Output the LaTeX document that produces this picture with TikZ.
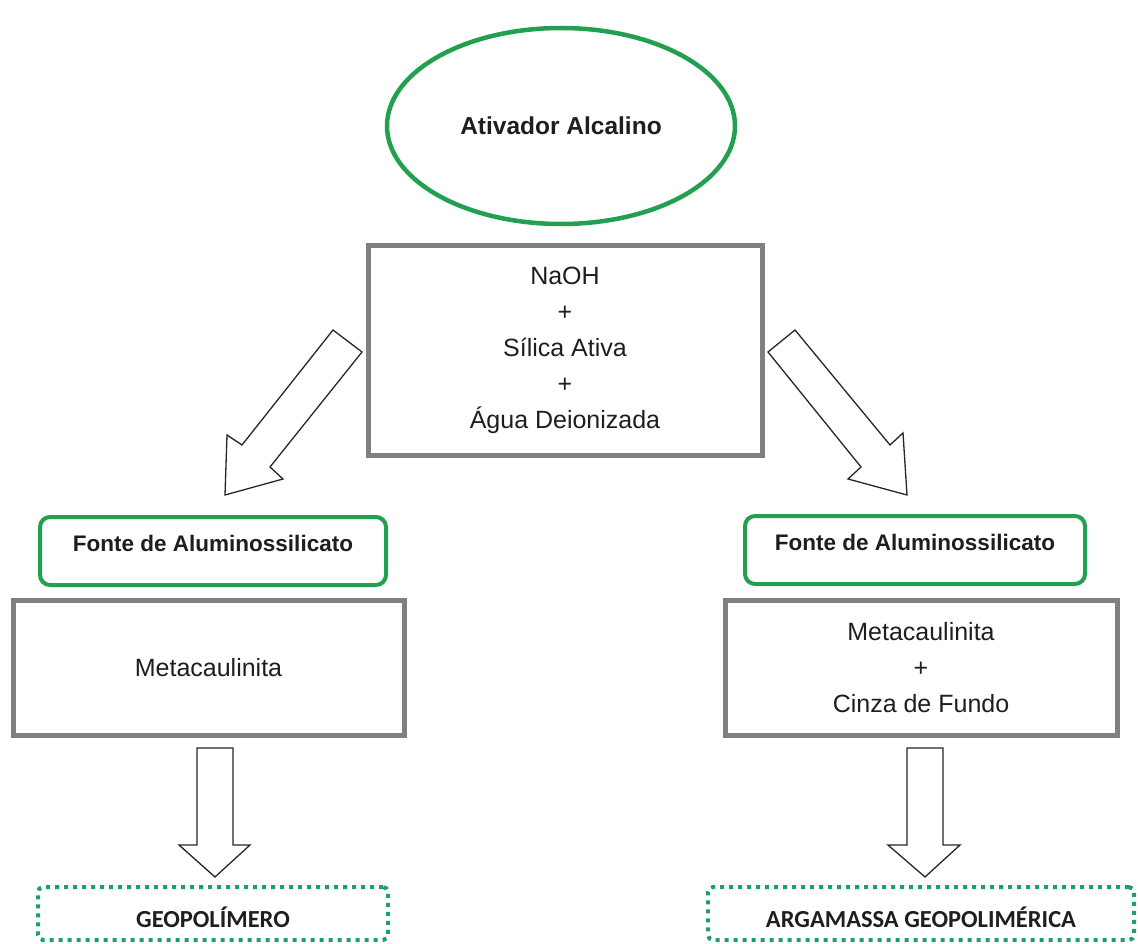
\documentclass[tikz,border=0pt]{standalone}
\usepackage{fontspec}
\setmainfont{Liberation Sans}
\newfontfamily\calfont{Carlito}
\usetikzlibrary{shapes.geometric}
\definecolor{mygreen}{RGB}{34,160,80}
\definecolor{dotgreen}{RGB}{30,160,100}
\definecolor{boxgray}{RGB}{128,128,128}
\definecolor{txt}{RGB}{30,30,30}
\tikzset{
  ovalbox/.style={ellipse, draw=mygreen, line width=4.5pt, text=txt,
    font=\fontsize{24.5}{30}\selectfont\bfseries},
  graybox/.style={rectangle, draw=boxgray, line width=5pt, text=txt, align=center,
    font=\fontsize{25}{36}\selectfont},
  greenbox/.style={rectangle, rounded corners=10pt, draw=mygreen, line width=4pt, text=txt,
    font=\fontsize{22.5}{28}\selectfont\bfseries, text height=16pt, text depth=16pt},
  dotbox/.style={rectangle, rounded corners=5pt, draw=dotgreen, line width=4pt,
    dash pattern=on 4pt off 5pt, text=txt, font=\fontsize{24.5}{30}\selectfont\calfont\bfseries,
    text height=27pt, text depth=0pt},
  blockarrow/.style={draw=black!85, fill=white, line width=1.3pt, line join=miter}
}
\begin{document}
\begin{tikzpicture}[x=1pt,y=-1pt]
\useasboundingbox (0,0) rectangle (1138,944);

\node[ovalbox, minimum width=348pt, minimum height=196pt] (ativ) at (561,126) {Ativador Alcalino};

\node[graybox, minimum width=394pt, minimum height=209pt] (mix) at (565,350.5)
  {NaOH\\+\\Sílica Ativa\\+\\Água Deionizada};

\node[greenbox, minimum width=346pt, minimum height=68pt] (fonteL) at (213,551) {Fonte de Aluminossilicato};
\node[greenbox, minimum width=340pt, minimum height=68pt] (fonteR) at (915,550) {Fonte de Aluminossilicato};

\node[graybox, minimum width=391pt, minimum height=135pt] (metaL) at (208.5,667.5) {Metacaulinita};
\node[graybox, minimum width=392pt, minimum height=135pt] (metaR) at (921,667.5) {Metacaulinita\\+\\Cinza de Fundo};

\node[dotbox, minimum width=350pt, minimum height=53pt] (geo) at (213,913.5) {GEOPOLÍMERO};
\node[dotbox, minimum width=426pt, minimum height=53pt] (arg) at (921,913.5) {ARGAMASSA GEOPOLIMÉRICA};

% diagonal block arrows
\draw[blockarrow] (333,330) -- (362,352) -- (270,467) -- (283,479) -- (225,495) -- (227,435) -- (242,445) -- cycle;
\draw[blockarrow] (795,330) -- (768,352) -- (861,467) -- (848,479) -- (907,495) -- (903,433) -- (890,445) -- cycle;

% vertical block arrows
\draw[blockarrow] (197,748) -- (233,748) -- (233,845) -- (250,845) -- (215,877) -- (179,845) -- (197,845) -- cycle;
\draw[blockarrow] (907,748) -- (943,748) -- (943,845) -- (960,845) -- (925,877) -- (888,845) -- (907,845) -- cycle;
\end{tikzpicture}
\end{document}
